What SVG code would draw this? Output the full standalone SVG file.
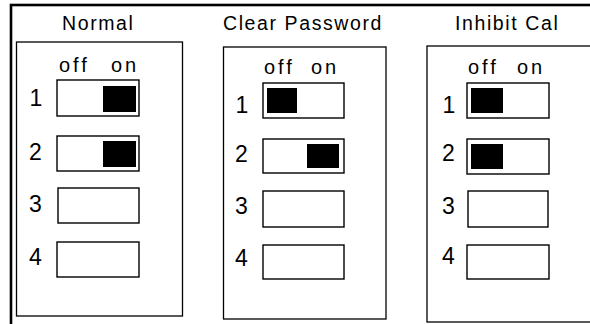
<svg xmlns="http://www.w3.org/2000/svg" width="590" height="324" viewBox="0 0 590 324">
<style>
.title{font-family:"Liberation Sans",Arial,sans-serif;font-size:19.5px;letter-spacing:1.6px;fill:#000}
.lab{font-family:"Liberation Sans",Arial,sans-serif;font-size:20px;letter-spacing:3px;fill:#000}
.num{font-family:"Liberation Sans",Arial,sans-serif;font-size:23px;fill:#000;text-anchor:middle}
.panel{fill:none;stroke:#000;stroke-width:1.3}
.sw{fill:#fff;stroke:#000;stroke-width:1.4}
.blk{fill:#000}
</style>
<rect x="0" y="0" width="590" height="324" fill="#fff"/>
<g id="frame"><rect x="11" y="5" width="620" height="400" fill="none" stroke="#000" stroke-width="2.6"/></g>
<g id="connectors"></g>
<g id="normal">
<text class="title" x="62" y="30">Normal</text>
<rect class="panel" x="16.5" y="42" width="166" height="274"/>
<text class="lab" x="59" y="72">off</text><text class="lab" x="111" y="72">on</text>
<text class="num" x="36" y="106">1</text><text class="num" x="35.5" y="160">2</text><text class="num" x="35.5" y="212">3</text><text class="num" x="35.5" y="265">4</text>
<rect class="sw" x="57" y="80" width="82" height="36"/>
<rect class="blk" x="103" y="86" width="33" height="26"/>
<rect class="sw" x="57" y="136" width="82" height="35"/>
<rect class="blk" x="103" y="141" width="33" height="26"/>
<rect class="sw" x="58" y="188" width="81" height="35"/>
<rect class="sw" x="57" y="242" width="82" height="35"/>
</g>
<g id="clear-password">
<text class="title" x="223" y="30">Clear Password</text>
<rect class="panel" x="223.5" y="47" width="162.5" height="272"/>
<text class="lab" x="264" y="74">off</text><text class="lab" x="311" y="74">on</text>
<text class="num" x="242" y="113">1</text><text class="num" x="241.5" y="162">2</text><text class="num" x="241.5" y="214">3</text><text class="num" x="241.5" y="266">4</text>
<rect class="sw" x="263" y="83" width="81" height="35"/>
<rect class="blk" x="267" y="88" width="30" height="25"/>
<rect class="sw" x="263" y="139" width="81" height="34"/>
<rect class="blk" x="307" y="144" width="32" height="24"/>
<rect class="sw" x="263" y="191" width="81" height="36"/>
<rect class="sw" x="263" y="245" width="81" height="34"/>
</g>
<g id="inhibit-cal">
<text class="title" x="455" y="30">Inhibit Cal</text>
<rect class="panel" x="427" y="46" width="175" height="276"/>
<text class="lab" x="468" y="74">off</text><text class="lab" x="517" y="74">on</text>
<text class="num" x="449" y="113">1</text><text class="num" x="448.5" y="161">2</text><text class="num" x="448.5" y="214">3</text><text class="num" x="448.5" y="264">4</text>
<rect class="sw" x="467" y="83" width="82" height="35"/>
<rect class="blk" x="471" y="88" width="32" height="25"/>
<rect class="sw" x="467" y="139" width="82" height="35"/>
<rect class="blk" x="471" y="144" width="32" height="25"/>
<rect class="sw" x="468" y="191" width="80" height="36"/>
<rect class="sw" x="467" y="245" width="82" height="34"/>
</g>
</svg>
